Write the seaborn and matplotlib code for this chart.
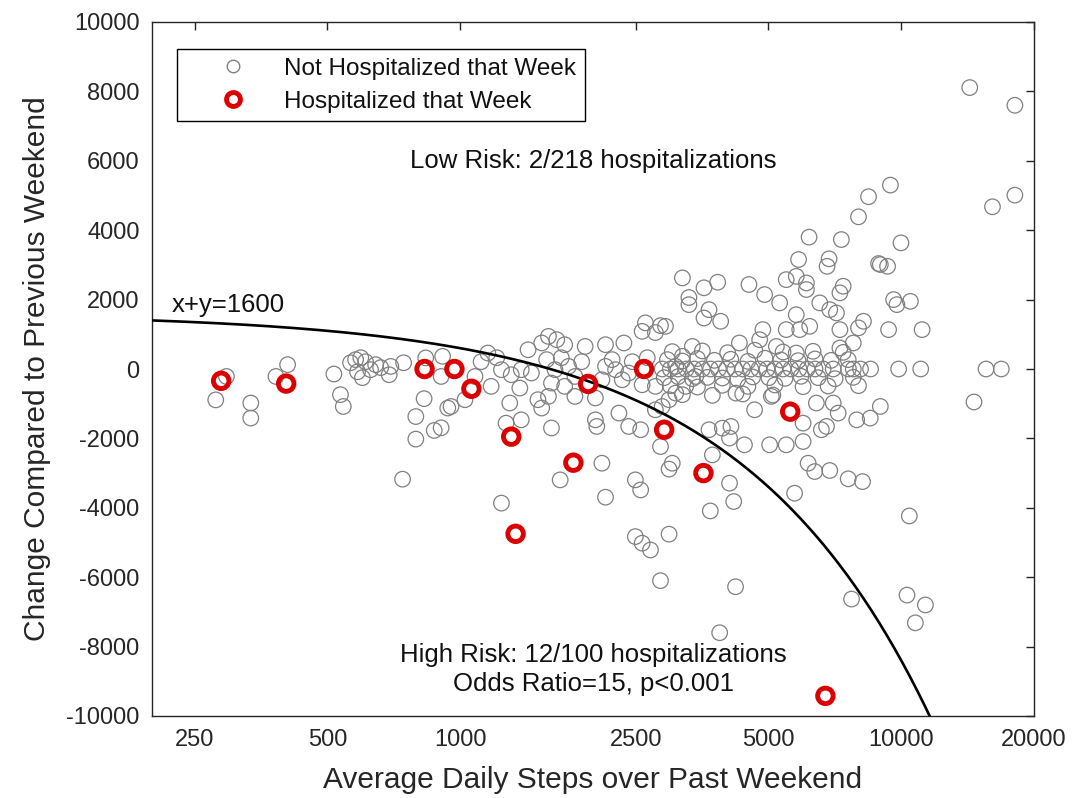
import numpy as np
import matplotlib
matplotlib.use("Agg")
import matplotlib.pyplot as plt
from matplotlib.lines import Line2D
from matplotlib.ticker import NullLocator
import seaborn as sns

# ---------------- data ----------------
# Weeks without hospitalization: average daily steps, change vs previous weekend
not_hosp_steps = [
    295, 279, 335, 335, 406, 382, 517, 535, 543,
    564, 579, 595, 610, 585, 600, 626, 643, 660,
    696, 690, 744, 835, 912, 905, 828, 793, 873, 793, 937, 740,
    3300, 2630, 2845, 2585, 2770, 1585, 1655, 1725, 1530, 1920, 2135, 2350,
    1425, 1155, 1240, 1305, 1375, 1175, 1365, 1450, 953, 1025, 905, 1295,
    1375, 1270, 1610, 1500, 1530, 1585, 1640, 1760, 1820, 1610, 1725, 1820,
    2025, 2025, 2040, 2290, 2410, 2565, 2135, 2250, 2410, 2330, 2770, 2975,
    2870, 2770, 2845, 3025, 2095, 1685, 2495, 3360, 3190, 3080, 3420, 3245,
    3080, 1080,
    1115, 1210, 1570, 1695, 1885, 2210, 2455, 2655, 2095, 2585,
    2870, 2995, 3120, 3255, 3395, 3540, 3695, 3850, 4020, 4195, 4370, 4560,
    4755, 4960, 5170, 5395, 5620, 5865, 6120, 6375, 6650, 7010, 7590, 7785,
    8085, 8520, 9865, 11070, 15570, 16860,
    2950, 3190, 3450, 3770, 4105, 4490, 4910, 5335, 5835, 6375, 6935, 7580,
    2900, 3120, 3360, 3635, 3930, 4260, 4605, 5010, 5450, 5925, 6480, 7080, 7785,
    3025, 3540, 4040, 4655, 5395, 6310, 7385,
    2995, 3450, 3930, 4490, 5170, 5990, 6825, 8000,
    3190, 3730, 4370, 5115,
    3665, 3895, 3570, 5300, 5780, 5485, 5885, 6200, 6535, 6885, 7130, 7385,
    7260, 5485, 5780, 6095, 6095, 8965, 9610, 10490, 8210, 8000, 9360, 11150,
    7260, 4855, 2920, 7260, 7785, 4295, 4775, 5210, 5780,
    4220, 4650, 5075, 5990, 6420, 7010, 7195, 6770, 6590, 7925, 8505, 8965,
    3665, 3930, 4110, 4080, 4410, 5030, 5485, 5990, 3730,
    14300, 18100, 9450, 8430, 8000, 16100, 18100, 6180, 7315, 9985, 5850, 6860,
    6790, 8885, 9310, 3190, 3570, 3835, 4515, 4900, 3300,
    9775, 14620,
    2135, 2565, 1240, 2975, 4080, 4170, 3690, 2495, 2585, 2700, 2975, 2845,
    4210, 3875, 6150, 6365, 6885, 7580, 8170, 5730, 10430, 7715, 10305, 11345,
    10765,
]
not_hosp_change = [
    -215, -890, -980, -1415, 125, -215, -145, -740, -1080,
    180, 270, 325, 210, -80, -250, -20, 125, 40,
    75, -165, 180, 320, 365, -215, -855, -1370, -1770, -2020, -1125, -3175,
    1855, 1330, 1250, 1085, 1050, 940, 845, 700, 750, 650, 700, 750,
    555, 460, -20, -165, -20, -500, -550, -115, -1080, -885, -1695, -980,
    -1465, -1560, -1700, -885, -1125, -790, -20, 75, -215, -405, -500, -790,
    -835, -1465, -1655, -1270, -1655, -1750, 75, -20, -115, -310, -500, -885,
    -1080, -1175, -2235, -2715, -2715, -3195, -3195, 650, 365, 75, -215, -500,
    -695, -215,
    210, 325, 270, 325, 210, 270, 210, 325, -310, -455,
    0, 0, 0, 0, 0, 0, 0, 0, 0, 0, 0, 0,
    0, 0, 0, 0, 0, 0, 0, 0, 0, 0, 0, 0,
    0, 0, 0, 0, 0, 0,
    270, 230, 300, 250, 280, 220, 310, 260, 240, 290, 250, 270,
    -250, -220, -280, -240, -260, -300, -230, -250, -270, -210, -250, -280, -240,
    500, 520, 470, 540, 490, 510, 480,
    -480, -520, -470, -500, -460, -510, -490, -480,
    -740, -760, -720, -750,
    1710, 1375, 1470, 1905, 1565, 1135, 1135, 1230, 1905, 1710, 1615, 2385,
    2195, 2575, 2670, 2480, 2290, 3010, 2000, 1950, 1375, 1185, 1135, 1135,
    1135, 1135, 1230, 605, 750, 750, 845, 650, 460,
    -695, -1175, -790, -1560, -980, -980, -1270, -1655, -1750, -1465, -1415, -1080,
    -1750, -1705, -1655, -1990, -2185, -2185, -2185, -2090, -2475,
    8110, 7600, 5300, 4965, 4385, 4675, 5010, 3800, 3730, 3635, 3155, 3175,
    2960, 3040, 2960, 2625, 2340, 2500, 2435, 2145, 2060,
    1855, -950,
    -3695, -3485, -3865, -2885, -3290, -3820, -4090, -4830, -5020, -5215, -4760, -6100,
    -6275, -7600, -2715, -2955, -2925, -3165, -3245, -3580, -4235, -6630, -6515, -6800,
    -7315,
]

# Weeks with a hospitalization
hosp_steps = [287, 403, 830, 970, 1060, 1305, 1335, 1805, 1950, 2610, 2900, 3560, 5600, 6730]
hosp_change = [-340, -420, 0, 0, -570, -1950, -4750, -2700, -430, 0, -1750, -3000, -1230, -9420]

# Risk boundary: steps + change = 1600
boundary_sum = 1600

x_ticks = [250, 500, 1000, 2500, 5000, 10000, 20000]
x_tick_labels = ["250", "500", "1000", "2500", "5000", "10000", "20000"]
y_ticks = [-10000, -8000, -6000, -4000, -2000, 0, 2000, 4000, 6000, 8000, 10000]

series_labels = ["Not Hospitalized that Week", "Hospitalized that Week"]
annotations = {
    "boundary": "x+y=1600",
    "low": "Low Risk: 2/218 hospitalizations",
    "high": "High Risk: 12/100 hospitalizations",
    "odds": "Odds Ratio=15, p<0.001",
}

# ---------------- style ----------------
sns.set_theme(style="white")
plt.rcParams["font.family"] = ["Liberation Sans", "DejaVu Sans"]

GREY = "#808080"
RED = "#dd0000"
AX_COL = "#262626"

fig = plt.figure(figsize=(10.72, 7.98), dpi=100)
ax = fig.add_axes([152 / 1072, 82 / 798, 882 / 1072, 694 / 798])

sns.scatterplot(x=not_hosp_steps, y=not_hosp_change, ax=ax, marker="o", s=125,
                facecolor="none", edgecolor=GREY, linewidth=0.9, legend=False, zorder=2)
sns.scatterplot(x=hosp_steps, y=hosp_change, ax=ax, marker="o", s=125,
                facecolor="none", edgecolor=RED, linewidth=3.5, legend=False, zorder=4)

curve_x = np.geomspace(200, 11700, 400)
sns.lineplot(x=curve_x, y=boundary_sum - curve_x, ax=ax, color="black", linewidth=1.9,
             sort=False, estimator=None, zorder=3)

ax.set_xscale("log")
ax.set_xlim(200, 20000)
ax.set_ylim(-10000, 10000)
ax.set_xticks(x_ticks)
ax.set_xticklabels(x_tick_labels)
ax.xaxis.set_minor_locator(NullLocator())
ax.set_yticks(y_ticks)
ax.set_yticklabels([str(v) for v in y_ticks])
ax.tick_params(axis="both", which="both", direction="in", length=6, width=1,
               top=True, right=True, labelsize=17, colors=AX_COL, pad=9)
for sp in ax.spines.values():
    sp.set_visible(True)
    sp.set_color(AX_COL)
    sp.set_linewidth(1.0)

ax.set_xlabel("Average Daily Steps over Past Weekend", fontsize=21.5, color=AX_COL)
ax.set_ylabel("Change Compared to Previous Weekend", fontsize=21.5, color=AX_COL)
ax.xaxis.set_label_coords(0.5, -0.072)
ax.yaxis.set_label_coords(-0.114, 0.5)

txt_col = "#111111"
ax.text(222, 1850, annotations["boundary"], fontsize=18.5, ha="left", va="center", color=txt_col)
ax.text(2000, 6000, annotations["low"], fontsize=18.5, ha="center", va="center", color=txt_col)
ax.text(2000, -8230, annotations["high"], fontsize=18.5, ha="center", va="center", color=txt_col)
ax.text(2000, -9080, annotations["odds"], fontsize=18.5, ha="center", va="center", color=txt_col)

handles = [
    Line2D([], [], ls="none", marker="o", ms=9, mfc="none", mec=GREY, mew=1.0),
    Line2D([], [], ls="none", marker="o", ms=10, mfc="none", mec=RED, mew=3.5),
]
leg = ax.legend(handles, series_labels, loc="upper left", bbox_to_anchor=(0.0287, 0.9607),
                borderaxespad=0, frameon=True, fancybox=False, edgecolor="black",
                framealpha=1, fontsize=17.5, handlelength=3.9, handletextpad=0.15,
                labelspacing=0.45, borderpad=0.35, numpoints=1)
leg.get_frame().set_linewidth(1.0)
for t in leg.get_texts():
    t.set_color(txt_col)

fig.savefig("out.png", dpi=100)
